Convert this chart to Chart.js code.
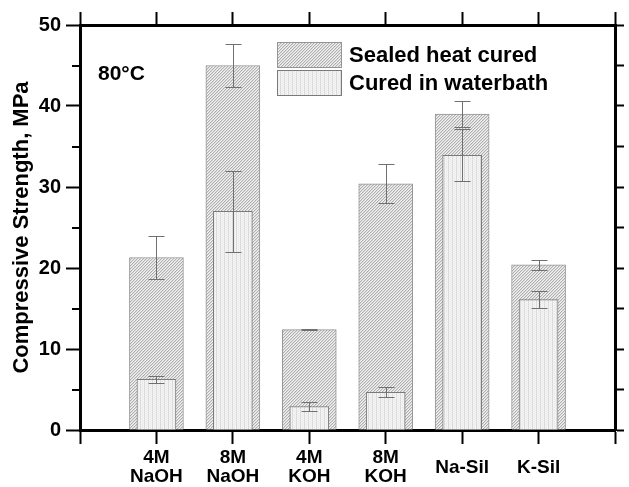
<!DOCTYPE html>
<html>
<head>
<meta charset="utf-8">
<script src="https://cdn.jsdelivr.net/npm/chart.js@4/dist/chart.umd.min.js"></script>
<style>
  body { margin: 0; background: #fff; }
  #wrap { width: 629px; height: 487px; }
</style>
</head>
<body>
<div id="wrap"><canvas id="graphique" width="629" height="487"></canvas></div>
<script>
// categories (x axis) and values
const categories = [["4M", "NaOH"], ["8M", "NaOH"], ["4M", "KOH"], ["8M", "KOH"], "Na-Sil", "K-Sil"];
const sealedValues = [21.3, 45.0, 12.4, 30.4, 39.0, 20.4];
const sealedErrors = [2.6, 2.7, 0.05, 2.4, 1.6, 0.6];
const waterbathValues = [6.25, 27.0, 2.9, 4.65, 33.9, 16.1];
const waterbathErrors = [0.45, 5.0, 0.6, 0.6, 3.2, 1.0];
const yMin = 0;
const yMax = 50;
const yStep = 5;
const yLabelStep = 10;

// empty slot at each end so that the axis runs from 0 to 7
const labels = [""].concat(categories, [""]);
function pad(arr) {
  return [null].concat(arr, [null]);
}

const police = "'Liberation Sans', Arial, sans-serif";

// motif hachuré pour "Sealed heat cured"
function motifHachure() {
  const c = document.createElement("canvas");
  c.width = 3;
  c.height = 3;
  const g = c.getContext("2d");
  g.fillStyle = "#f1f1f1";
  g.fillRect(0, 0, 3, 3);
  for (let x = 0; x < 3; x++) {
    const y = 2 - x;
    g.fillStyle = "#afafaf";
    g.fillRect(x, y, 1, 1);
    g.fillStyle = "#dadada";
    g.fillRect(x, (y + 1) % 3, 1, 1);
  }
  return g.createPattern(c, "repeat");
}

// motif pointillé vertical pour "Cured in waterbath"
function motifPoints() {
  const c = document.createElement("canvas");
  c.width = 4;
  c.height = 2;
  const g = c.getContext("2d");
  g.fillStyle = "#f3f3f3";
  g.fillRect(0, 0, 4, 2);
  g.fillStyle = "#d6d6d6";
  g.fillRect(0, 0, 1, 1);
  g.fillStyle = "#e0e0e0";
  g.fillRect(0, 1, 1, 1);
  g.fillStyle = "#e8e8e8";
  g.fillRect(2, 1, 1, 1);
  return g.createPattern(c, "repeat");
}

const erreurs = [sealedErrors, waterbathErrors];

// barres d'erreur, légende, texte 80°C et petites graduations
const decorPlugin = {
  id: "decor",
  afterDatasetsDraw(chart) {
    const ctx = chart.ctx;
    const y = chart.scales.y;
    ctx.save();
    ctx.strokeStyle = "#707070";
    ctx.lineWidth = 1;
    chart.data.datasets.forEach((ds, di) => {
      const meta = chart.getDatasetMeta(di);
      meta.data.forEach((bar, i) => {
        const v = ds.data[i];
        if (v === null) return;
        const e = erreurs[di][i - 1];
        const x = Math.round(bar.x) + 0.5;
        const yTop = Math.round(y.getPixelForValue(v + e)) + 0.5;
        const yBot = Math.round(y.getPixelForValue(v - e)) + 0.5;
        ctx.beginPath();
        ctx.moveTo(x, yTop);
        ctx.lineTo(x, yBot);
        ctx.moveTo(x - 8, yTop);
        ctx.lineTo(x + 8, yTop);
        ctx.moveTo(x - 8, yBot);
        ctx.lineTo(x + 8, yBot);
        ctx.stroke();
      });
    });
    ctx.restore();
  },
  afterDraw(chart) {
    const ctx = chart.ctx;
    const y = chart.scales.y;
    const left = chart.chartArea.left;
    ctx.save();

    // petites graduations (5, 15, ...)
    ctx.strokeStyle = "#000";
    ctx.lineWidth = 2;
    for (let v = yMin + yStep; v < yMax; v += yLabelStep) {
      const py = Math.round(y.getPixelForValue(v));
      ctx.beginPath();
      ctx.moveTo(left - 8, py);
      ctx.lineTo(left, py);
      ctx.stroke();
    }

    // légende
    const boxes = [42, 70];
    chart.data.datasets.forEach((ds, di) => {
      ctx.fillStyle = ds.backgroundColor;
      ctx.fillRect(277, boxes[di], 65, 26);
      ctx.strokeStyle = ds.borderColor;
      ctx.lineWidth = 1;
      ctx.strokeRect(277.5, boxes[di] + 0.5, 64, 25);
      ctx.fillStyle = "#000";
      ctx.font = "bold 22px " + police;
      ctx.textBaseline = "middle";
      ctx.textAlign = "left";
      ctx.fillText(ds.label, 349, boxes[di] + 14);
    });

    // température
    ctx.font = "bold 21px " + police;
    ctx.textBaseline = "alphabetic";
    ctx.fillText("80°C", 98, 80);
    ctx.restore();
  },
};

const data = {
  labels: labels,
  datasets: [
    {
      label: "Sealed heat cured",
      data: pad(sealedValues),
      backgroundColor: motifHachure(),
      borderColor: "#959595",
      borderWidth: 1,
      barThickness: 54,
      grouped: false,
      order: 2,
    },
    {
      label: "Cured in waterbath",
      data: pad(waterbathValues),
      backgroundColor: motifPoints(),
      borderColor: "#7a7a7a",
      borderWidth: 1,
      barThickness: 39,
      grouped: false,
      order: 1,
    },
  ],
};

const config = {
  type: "bar",
  data: data,
  plugins: [decorPlugin],
  options: {
    responsive: false,
    animation: false,
    layout: { padding: 0 },
    plugins: {
      legend: { display: false },
      tooltip: { enabled: false },
    },
    scales: {
      x: {
        position: "bottom",
        offset: false,
        border: { color: "#000", width: 3 },
        grid: { offset: false, drawOnChartArea: false, tickLength: 14, tickWidth: 2, tickColor: "#000" },
        ticks: {
          autoSkip: false,
          maxRotation: 0,
          crossAlign: "center",
          padding: 14,
          color: "#000",
          font: { family: police, size: 19, weight: "bold", lineHeight: 1.0 },
        },
        afterFit(scale) {
          scale.height = 57;
        },
      },
      x2: {
        type: "category",
        labels: labels,
        position: "top",
        offset: false,
        border: { color: "#000", width: 3 },
        grid: { offset: false, drawOnChartArea: false, tickLength: 13, tickWidth: 2, tickColor: "#000" },
        ticks: { display: false, autoSkip: false },
        afterFit(scale) {
          scale.height = 25;
        },
      },
      y: {
        position: "left",
        min: yMin,
        max: yMax,
        border: { color: "#000", width: 3 },
        grid: {
          drawOnChartArea: false,
          tickLength: 14,
          tickWidth: 2,
          tickColor: (c) => (c.tick && c.tick.value % yLabelStep === 0 ? "#000" : "rgba(0,0,0,0)"),
        },
        ticks: {
          stepSize: yStep,
          padding: 5,
          color: "#000",
          font: { family: police, size: 20, weight: "bold" },
          callback: (v) => (v % yLabelStep === 0 ? v : ""),
        },
        title: {
          display: true,
          text: "Compressive Strength, MPa",
          color: "#000",
          font: { family: police, size: 22, weight: "bold" },
          padding: { top: 9, bottom: 0 },
        },
        afterFit(scale) {
          scale.width = 80;
        },
      },
      y2: {
        position: "right",
        min: yMin,
        max: yMax,
        border: { color: "#000", width: 3 },
        grid: { drawOnChartArea: false, tickLength: 9, tickWidth: 2, tickColor: "#000" },
        ticks: { display: false, stepSize: yStep },
        afterFit(scale) {
          scale.width = 9;
        },
      },
    },
  },
};

new Chart(document.querySelector("#graphique"), config);
</script>
</body>
</html>
